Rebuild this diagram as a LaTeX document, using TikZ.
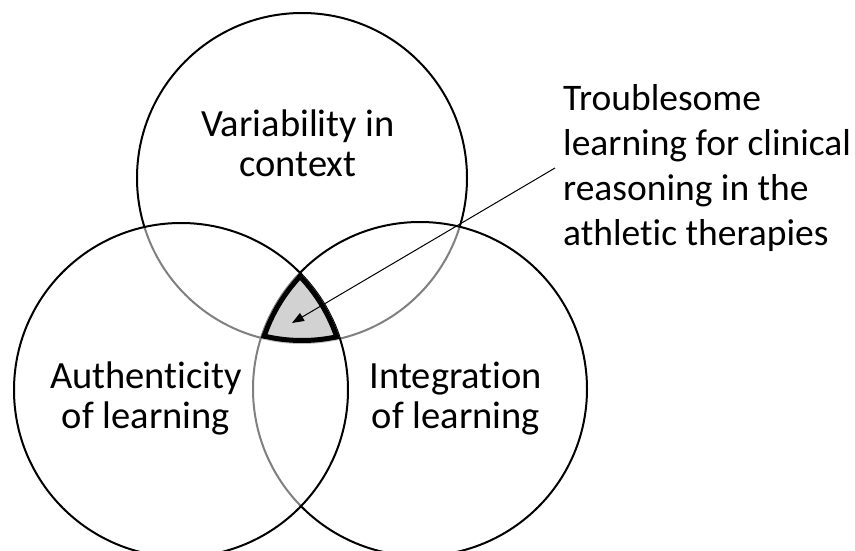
\documentclass[tikz,border=0pt]{standalone}
\usepackage{fontspec}
\setmainfont{Carlito}[Ligatures={NoCommon,NoContextual}]
\usetikzlibrary{arrows.meta}
\begin{document}
\begin{tikzpicture}[x=1pt,y=-1pt,
  ring/.style={circle, draw=black, line width=2pt, inner sep=0pt, outer sep=0pt, minimum size=#1},
  veil/.style={fill=white, fill opacity=0.5},
  lbl/.style={align=center, inner sep=0pt, font=\fontsize{38.5}{40}\selectfont},
  note/.style={align=left, inner sep=0pt, font=\fontsize{37.5}{45}\selectfont},
  pointer/.style={line width=1pt, -{Triangle[length=12pt,width=9pt]}}]
\useasboundingbox (0,0) rectangle (855,551);
\clip (0,0) rectangle (855,551);

% circle centres
\coordinate (cT) at (302,178);
\coordinate (cL) at (181,390);
\coordinate (cR) at (420,389);

% the three sets; later fills veil the outlines they cover
\node[ring=330pt] (ctx) at (cT) {};
\node[ring=334pt, veil] (integ) at (cR) {};
\node[ring=334pt, veil] (auth) at (cL) {};

% common region of all three sets
\begin{scope}
  \clip (cT) circle[radius=165];
  \clip (cL) circle[radius=167];
  \clip (cR) circle[radius=167];
  \fill[gray!35] (0,0) rectangle (855,551);
  \draw[line width=10pt] (cT) circle[radius=165];
  \draw[line width=10pt] (cL) circle[radius=167];
  \draw[line width=10pt] (cR) circle[radius=167];
\end{scope}

% set labels
\node[lbl] (tctx) at (298,143.5) {Variability in\\context};
\node[lbl] (tauth) at (146,398.5) {Authenticity\\of learning};
\node[lbl] (tinteg) at (456,398.5) {Integration\\of learning};

% callout
\node[note, anchor=north west] (tnote) at (563,84) {Troublesome\\learning for clinical\\reasoning in the\\athletic therapies};
\coordinate (tail) at (555,168);
\coordinate (tip) at (292,323);
\draw[pointer] (tail) -- (tip);
\end{tikzpicture}
\end{document}
